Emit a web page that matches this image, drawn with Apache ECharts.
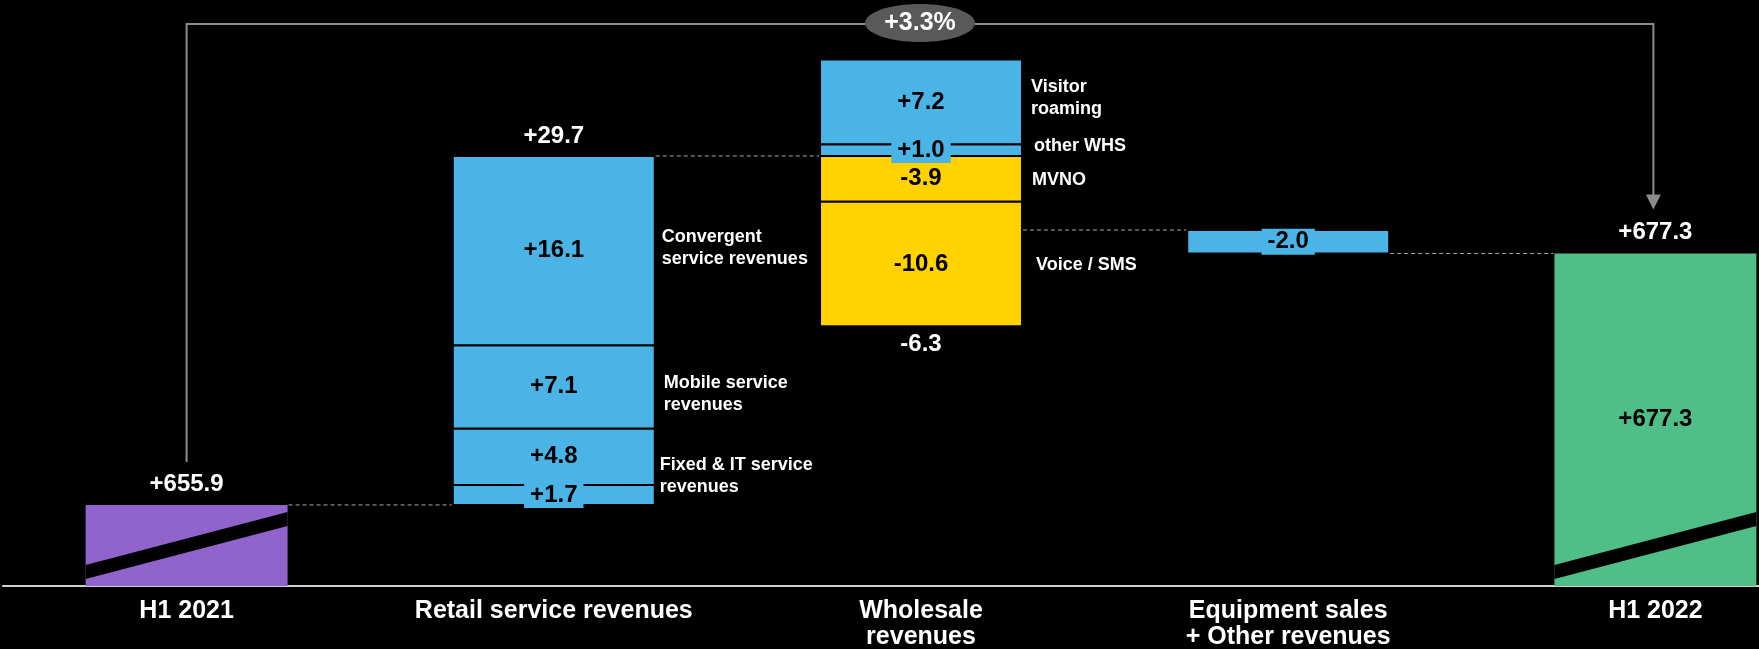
<!DOCTYPE html>
<html>
<head>
<meta charset="utf-8">
<style>
  html, body { margin: 0; padding: 0; background: #000; }
  #main { width: 1759px; height: 649px; }
</style>
<script src="https://cdn.jsdelivr.net/npm/echarts@6/dist/echarts.min.js"></script>
</head>
<body>
<div id="main"></div>
<script>
// values (EUR m)
const categories = ['H1 2021', 'Retail service revenues', 'Wholesale\nrevenues', 'Equipment sales\n+ Other revenues', 'H1 2022'];
const startTotal = 655.9;
const endTotal = 677.3;
const retailChanges = [1.7, 4.8, 7.1, 16.1];
const retailNotes = ['', 'Fixed & IT service\nrevenues', 'Mobile service\nrevenues', 'Convergent\nservice revenues'];
const wholesaleGains = [1.0, 7.2];
const wholesaleGainNotes = ['other WHS', 'Visitor\nroaming'];
const wholesaleLosses = [-3.9, -10.6];
const wholesaleLossNotes = ['MVNO', 'Voice / SMS'];
const equipmentChanges = [-2.0];
const growthLabel = '+3.3%';

const Y_MIN = 649, Y_MAX = 697;
const FONT = "'Liberation Sans', Arial, Helvetica, sans-serif";
const BLUE = '#4BB4E6', YELLOW = '#FFD200', PURPLE = '#9164CD', GREEN = '#50BE87';
const BAR_RATIO = 0.55;
// pixel nudges for the side notes, keyed by note text
const noteNudge = {
  'Fixed & IT service\nrevenues': [5, 19],
  'Mobile service\nrevenues': [9, 7],
  'Convergent\nservice revenues': [7, -3],
  'other WHS': [12, -4],
  'Visitor\nroaming': [9, -4],
  'MVNO': [10, 1],
  'Voice / SMS': [14, 1]
};

const fmt = v => (v > 0 ? '+' : '') + v.toFixed(1);
const sum = arr => arr.reduce((a, b) => a + b, 0);

// build floating segments
const segments = [];
let level = startTotal;
retailChanges.forEach((v, i) => {
  segments.push({cat: 1, low: level, high: level + v, value: v, note: retailNotes[i], color: BLUE});
  level += v;
});
const retailTop = level;
let up = level;
wholesaleGains.forEach((v, i) => {
  segments.push({cat: 2, low: up, high: up + v, value: v, note: wholesaleGainNotes[i], color: BLUE});
  up += v;
});
let down = level;
wholesaleLosses.forEach((v, i) => {
  segments.push({cat: 2, low: down + v, high: down, value: v, note: wholesaleLossNotes[i], color: YELLOW});
  down += v;
});
const wholesaleBottom = down;
level += sum(wholesaleGains) + sum(wholesaleLosses);
const wholesaleEnd = level;
equipmentChanges.forEach(v => {
  segments.push({cat: 3, low: level + v, high: level, value: v, note: '', color: BLUE});
  level += v;
});

const totals = [
  {cat: 0, value: startTotal, color: PURPLE, inside: false},
  {cat: 4, value: endTotal, color: GREEN, inside: true}
];
const netLabels = [
  {cat: 1, value: sum(retailChanges), edge: retailTop},
  {cat: 2, value: sum(wholesaleGains) + sum(wholesaleLosses), edge: wholesaleBottom}
];
const connectors = [startTotal, retailTop, wholesaleEnd, endTotal];

function rectOf(api, cat, low, high) {
  const a = api.coord([cat, high]);
  const b = api.coord([cat, low]);
  const w = api.size([1, 0])[0] * BAR_RATIO;
  return {x: a[0] - w / 2, y: a[1], width: w, height: b[1] - a[1]};
}

function numText(text, x, y, fill, extra) {
  return {
    type: 'text', z2: 20,
    style: Object.assign({
      text: text, x: x, y: y, fill: fill,
      fontFamily: FONT, fontSize: 24, fontWeight: 'bold',
      align: 'center', verticalAlign: 'middle'
    }, extra || {})
  };
}

const chart = echarts.init(document.getElementById('main'));
chart.setOption({
  backgroundColor: '#000',
  animation: false,
  // last bar runs off the slide edge, so the grid is wider than the canvas
  grid: {left: 3, width: 1836, top: 22, bottom: 63, outerBoundsMode: 'none', containLabel: false},
  xAxis: {
    type: 'category',
    data: categories,
    axisLine: {lineStyle: {color: '#d0d0d0', width: 2}},
    axisTick: {show: false},
    axisLabel: {color: '#fff', fontFamily: FONT, fontSize: 25, fontWeight: 'bold', margin: 12, lineHeight: 26, interval: 0}
  },
  yAxis: {type: 'value', min: Y_MIN, max: Y_MAX, show: false},
  series: [
    {
      // start / end totals with break marks
      type: 'custom',
      data: totals.map(t => [t.cat, t.value]),
      renderItem: (params, api) => {
        const t = totals[params.dataIndex];
        const r = rectOf(api, t.cat, Y_MIN, t.value);
        const yb = r.y + r.height, xl = r.x, xr = r.x + r.width;
        const children = [
          {type: 'rect', shape: r, style: {fill: t.color}},
          {type: 'polygon', shape: {points: [[xl, yb - 21], [xr, yb - 74], [xr, yb - 60], [xl, yb - 7]]}, style: {fill: '#000'}},
          numText(fmt(t.value), r.x + r.width / 2, r.y - 21, '#fff')
        ];
        if (t.inside) children.push(numText(fmt(t.value), r.x + r.width / 2, r.y + r.height / 2, '#000'));
        return {type: 'group', children: children};
      }
    },
    {
      // change segments
      type: 'custom',
      data: segments.map(s => [s.cat, s.low, s.high]),
      renderItem: (params, api) => {
        const s = segments[params.dataIndex];
        const r = rectOf(api, s.cat, s.low, s.high);
        const cx = r.x + r.width / 2, cy = r.y + r.height / 2;
        const small = r.height < 26;
        const children = [
          {type: 'rect', shape: r, style: {fill: s.color, stroke: '#000', lineWidth: 2}},
          numText(fmt(s.value), cx, cy, '#000', small ? {backgroundColor: s.color, padding: [1, 6], lineHeight: 24} : null)
        ];
        if (s.note) {
          const n = noteNudge[s.note] || [8, 0];
          children.push({
            type: 'text', z2: 20,
            style: {
              text: s.note, x: r.x + r.width + n[0], y: cy + n[1], fill: '#fff',
              fontFamily: FONT, fontSize: 18, fontWeight: 'bold', lineHeight: 22,
              align: 'left', verticalAlign: 'middle'
            }
          });
        }
        return {type: 'group', children: children};
      }
    },
    {
      // net change per category
      type: 'custom',
      data: netLabels.map(n => [n.cat, n.edge]),
      renderItem: (params, api) => {
        const n = netLabels[params.dataIndex];
        const p = api.coord([n.cat, n.edge]);
        return numText(fmt(n.value), p[0], n.value >= 0 ? p[1] - 20 : p[1] + 18, '#fff');
      }
    },
    {
      // dashed connectors between bars
      type: 'custom',
      data: connectors.map((v, i) => [i, v]),
      renderItem: (params, api) => {
        const i = params.dataIndex;
        const w = api.size([1, 0])[0] * BAR_RATIO;
        const a = api.coord([i, connectors[i]]);
        const b = api.coord([i + 1, connectors[i]]);
        return {
          type: 'line',
          shape: {x1: a[0] + w / 2 + 1, y1: a[1], x2: b[0] - w / 2 - 1, y2: b[1]},
          style: {stroke: '#a8a8a8', lineWidth: 1, lineDash: [4, 3]}
        };
      }
    },
    {
      // growth bracket
      type: 'custom',
      data: [[0, Y_MAX]],
      renderItem: (params, api) => {
        const s = api.coord([0, startTotal]);
        const e = api.coord([4, endTotal]);
        const m = api.coord([2, Y_MAX]);
        const top = m[1] + 2;
        const ex = e[0] - 2, tip = e[1] - 44;
        return {
          type: 'group',
          children: [
            {type: 'polyline', shape: {points: [[s[0], s[1] - 43], [s[0], top], [ex, top], [ex, tip - 14]]}, style: {stroke: '#8c8c8c', lineWidth: 2, fill: null}},
            {type: 'polygon', shape: {points: [[ex - 7.5, tip - 15], [ex + 7.5, tip - 15], [ex, tip]]}, style: {fill: '#8c8c8c'}},
            {type: 'ellipse', shape: {cx: m[0] - 1, cy: top - 1, rx: 55, ry: 19}, style: {fill: '#595959'}},
            numText(growthLabel, m[0] - 1, top - 1, '#fff', {fontSize: 25})
          ]
        };
      }
    }
  ]
});
</script>
</body>
</html>
